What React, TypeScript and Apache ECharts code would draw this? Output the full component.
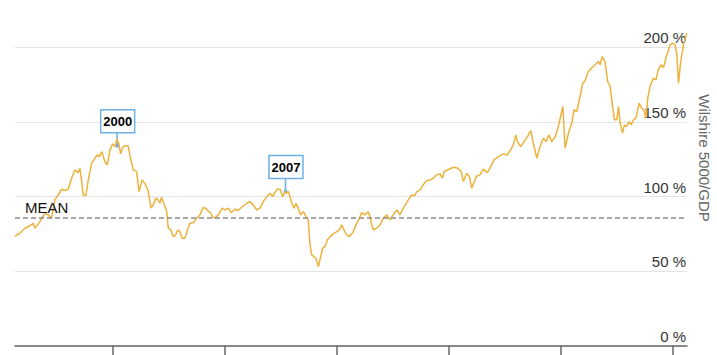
import { useEffect, useRef } from "react";
import * as echarts from "echarts";

// Decimal years and Wilshire 5000 / GDP ratio (%)
const years = [
  1995.63, 1995.85, 1996.07, 1996.29, 1996.44, 1996.52, 1996.74, 1996.96, 1997.11, 1997.26,
  1997.41, 1997.56, 1997.71, 1997.86, 1998.0, 1998.16, 1998.3, 1998.45, 1998.53, 1998.6,
  1998.67, 1998.79, 1998.9, 1999.05, 1999.2, 1999.3, 1999.39, 1999.5, 1999.64, 1999.75,
  1999.87, 1999.99, 2000.09, 2000.18, 2000.28, 2000.34, 2000.46, 2000.54, 2000.68, 2000.8,
  2000.91, 2001.06, 2001.16, 2001.31, 2001.46, 2001.58, 2001.7, 2001.8, 2001.92, 2002.02,
  2002.1, 2002.17, 2002.29, 2002.4, 2002.47, 2002.59, 2002.69, 2002.8, 2002.89, 2002.99,
  2003.09, 2003.21, 2003.33, 2003.44, 2003.58, 2003.74, 2003.88, 2004.03, 2004.18, 2004.29,
  2004.38, 2004.43, 2004.55, 2004.7, 2004.88, 2005.0, 2005.15, 2005.27, 2005.45, 2005.59,
  2005.75, 2005.97, 2006.12, 2006.26, 2006.42, 2006.56, 2006.71, 2006.86, 2007.01, 2007.13,
  2007.23, 2007.33, 2007.46, 2007.58, 2007.68, 2007.75, 2007.83, 2007.9, 2007.98, 2008.08,
  2008.17, 2008.27, 2008.38, 2008.5, 2008.62, 2008.72, 2008.79, 2008.87, 2008.97, 2009.06,
  2009.17, 2009.27, 2009.36, 2009.46, 2009.57, 2009.69, 2009.83, 2009.99, 2010.1, 2010.21,
  2010.31, 2010.43, 2010.55, 2010.7, 2010.85, 2011.0, 2011.1, 2011.25, 2011.4, 2011.47,
  2011.55, 2011.62, 2011.77, 2011.92, 2012.07, 2012.22, 2012.37, 2012.51, 2012.67, 2012.81,
  2012.96, 2013.18, 2013.33, 2013.45, 2013.56, 2013.71, 2013.85, 2014.0, 2014.15, 2014.3,
  2014.45, 2014.6, 2014.7, 2014.79, 2014.94, 2015.09, 2015.24, 2015.39, 2015.54, 2015.64,
  2015.79, 2015.91, 2016.01, 2016.13, 2016.21, 2016.38, 2016.53, 2016.71, 2016.86, 2017.01,
  2017.2, 2017.42, 2017.6, 2017.75, 2017.87, 2017.98, 2018.05, 2018.2, 2018.35, 2018.5,
  2018.65, 2018.76, 2018.92, 2019.06, 2019.21, 2019.33, 2019.46, 2019.58, 2019.73, 2019.88,
  2020.08, 2020.18, 2020.33, 2020.48, 2020.58, 2020.7, 2020.85, 2020.97, 2021.07, 2021.22,
  2021.37, 2021.52, 2021.67, 2021.74, 2021.84, 2021.96, 2022.08, 2022.19, 2022.29, 2022.38,
  2022.49, 2022.56, 2022.63, 2022.74, 2022.83, 2022.93, 2023.04, 2023.13, 2023.23, 2023.34,
  2023.48, 2023.6, 2023.72, 2023.78, 2023.87, 2023.97, 2024.12, 2024.23, 2024.34, 2024.46,
  2024.57, 2024.72, 2024.87, 2024.97, 2025.09, 2025.17, 2025.24, 2025.34, 2025.46, 2025.61,
];

const ratio = [
  73.6, 75.4, 78.8, 80.3, 82.1, 78.8, 83.2, 88.8, 87.7, 85.5,
  97.7, 101, 104.9, 104, 104.9, 112.2, 117.8, 116, 118.9, 111,
  101, 100.6, 111, 122.3, 125.6, 127.8, 126.7, 130, 123.4, 121.1,
  131.2, 135.2, 133.4, 138.5, 134.5, 128.5, 133.4, 134, 133.9, 124.5,
  117.8, 116.7, 103.3, 111.1, 107.8, 103.3, 92.2, 94.4, 98.9, 97.7,
  95.5, 99.5, 94.4, 89.9, 78.8, 77.6, 73.2, 74.3, 77.6, 76.5,
  72.1, 72.1, 77.6, 82.1, 82.5, 85.5, 87.7, 92.8, 91.5, 89.9,
  88.8, 86.5, 85.5, 87.7, 92.2, 91, 92.2, 89.2, 91.5, 90.6,
  92.8, 95.5, 96.6, 94.4, 91, 92.2, 96.6, 99.9, 102.2, 99.9,
  102.6, 104.9, 104.9, 99.9, 103.3, 102.2, 103.3, 99.9, 95.5, 92.2,
  95.5, 92.2, 87.7, 89.9, 86.5, 84.3, 68.7, 60.9, 59.8, 58.7,
  53.1, 59.8, 65.4, 66.5, 70.9, 73.2, 75, 76.5, 77.6, 81,
  77.6, 74.3, 73.2, 75.8, 81, 85.5, 89.2, 87.7, 89.9, 86.5,
  81, 77.6, 78.8, 81, 85.5, 87.7, 84.3, 87.7, 91, 87.7,
  92.2, 97.7, 101, 100.4, 103.3, 104.4, 107.8, 110.6, 111.1, 112.2,
  114.5, 115.1, 112.2, 116.7, 117.8, 118.9, 119.6, 118.9, 116.7, 110,
  115.6, 113.4, 105.6, 110, 113.4, 114.5, 118.3, 116, 120, 124.5,
  126.7, 128.5, 127.8, 131.2, 134.5, 141.2, 136.7, 133.4, 136.7, 140.1,
  144.1, 135.7, 125.6, 133.4, 139, 136.7, 141.2, 136.7, 139.6, 146.8,
  160.2, 132.3, 142.4, 149.1, 158, 156.8, 166.9, 175.8, 177.5, 183.7,
  185.9, 188.1, 190.3, 188.1, 193.6, 190.3, 176.9, 173.6, 161.3, 151.3,
  151.3, 160.2, 150.1, 142.4, 147.9, 146.8, 150.1, 147.9, 151.3, 152.4,
  162.4, 159.1, 156.8, 152.4, 165.8, 173.6, 179.2, 178, 184.7, 188.1,
  186.3, 194.8, 201.5, 202.6, 201.5, 194.8, 175.8, 190.3, 201.5, 209.3,
];

const yTicks = [0, 50, 100, 150, 200];
const xTicks = [2000, 2005, 2010, 2015, 2020, 2025];
const meanValue = 85.7;
const meanLabel = "MEAN";
const axisName = "Wilshire 5000/GDP";
const annotationLabels = ["2000", "2007"];
const annotationYears = [2000.19, 2007.7];
const annotationValues = [134, 103.3];

const FONT = "'Liberation Sans', Arial, Helvetica, sans-serif";
const LINE_COLOR = "#ecb23c";
const ANN_COLOR = "#6cb2e6";

export default function App() {
  const ref = useRef<HTMLDivElement>(null);

  useEffect(() => {
    if (!ref.current) return;
    const chart = echarts.init(ref.current, null, { renderer: "svg" });
    const data = years.map((y, i) => [y, ratio[i]]);

    chart.setOption({
      animation: false,
      textStyle: { fontFamily: FONT },
      grid: { left: 15, right: 30, top: 47, bottom: 9, containLabel: false },
      xAxis: {
        type: "value",
        min: 1995.63,
        max: 2025.62,
        axisLine: { show: true, lineStyle: { color: "#666", width: 1.5 } },
        axisTick: {
          show: true,
          customValues: xTicks,
          length: 9,
          lineStyle: { color: "#666", width: 1.5 },
        },
        axisLabel: { show: false },
        splitLine: { show: false },
      },
      yAxis: {
        type: "value",
        position: "right",
        min: 0,
        max: 200,
        interval: 50,
        axisLine: { show: false },
        axisTick: { show: false },
        axisLabel: {
          inside: true,
          margin: 1,
          verticalAlign: "bottom",
          padding: [0, 0, 2, 0],
          fontSize: 15,
          color: "#333",
          fontFamily: FONT,
          customValues: yTicks,
          formatter: (v: number) => `${v} %`,
        },
        splitLine: { show: true, lineStyle: { color: "#e4e4e4", width: 1 } },
      },
      series: [
        {
          type: "line",
          data,
          showSymbol: false,
          symbol: "none",
          clip: false,
          lineStyle: { color: LINE_COLOR, width: 1.5 },
          markLine: {
            silent: true,
            symbol: "none",
            data: [{ yAxis: meanValue }],
            lineStyle: { color: "#8a8a8a", width: 1.5, type: [5, 3] },
            label: {
              show: true,
              position: "insideStartTop",
              formatter: meanLabel,
              fontSize: 15,
              color: "#111",
              fontFamily: FONT,
              distance: [10, 3],
            },
          },
        },
      ],
    });

    const graphics: any[] = [
      {
        type: "text",
        x: 704,
        y: 158,
        rotation: -Math.PI / 2,
        style: {
          text: axisName,
          fontSize: 15,
          fill: "#666",
          fontFamily: FONT,
          align: "center",
          verticalAlign: "middle",
        },
      },
    ];
    annotationLabels.forEach((label, i) => {
      const [px, py] = chart.convertToPixel({ gridIndex: 0 }, [
        annotationYears[i],
        annotationValues[i],
      ]) as number[];
      const stem = 13;
      const bw = 34;
      const bh = 23;
      graphics.push(
        {
          type: "line",
          shape: { x1: px, y1: py, x2: px, y2: py - stem },
          style: { stroke: ANN_COLOR, lineWidth: 1.5 },
        },
        {
          type: "circle",
          shape: { cx: px, cy: py, r: 2 },
          style: { fill: ANN_COLOR },
        },
        {
          type: "rect",
          shape: { x: px - bw / 2 + 0.5, y: py - stem - bh, width: bw, height: bh },
          style: { fill: "#fff", stroke: ANN_COLOR, lineWidth: 1.5 },
        },
        {
          type: "text",
          x: px + 0.5,
          y: py - stem - bh / 2,
          style: {
            text: label,
            fontSize: 13,
            fontWeight: "bold",
            fill: "#000",
            fontFamily: FONT,
            align: "center",
            verticalAlign: "middle",
          },
        }
      );
    });
    chart.setOption({ graphic: graphics });

    return () => chart.dispose();
  }, []);

  return (
    <div
      ref={ref}
      style={{ position: "absolute", left: 0, top: 0, width: 717, height: 355 }}
    />
  );
}
